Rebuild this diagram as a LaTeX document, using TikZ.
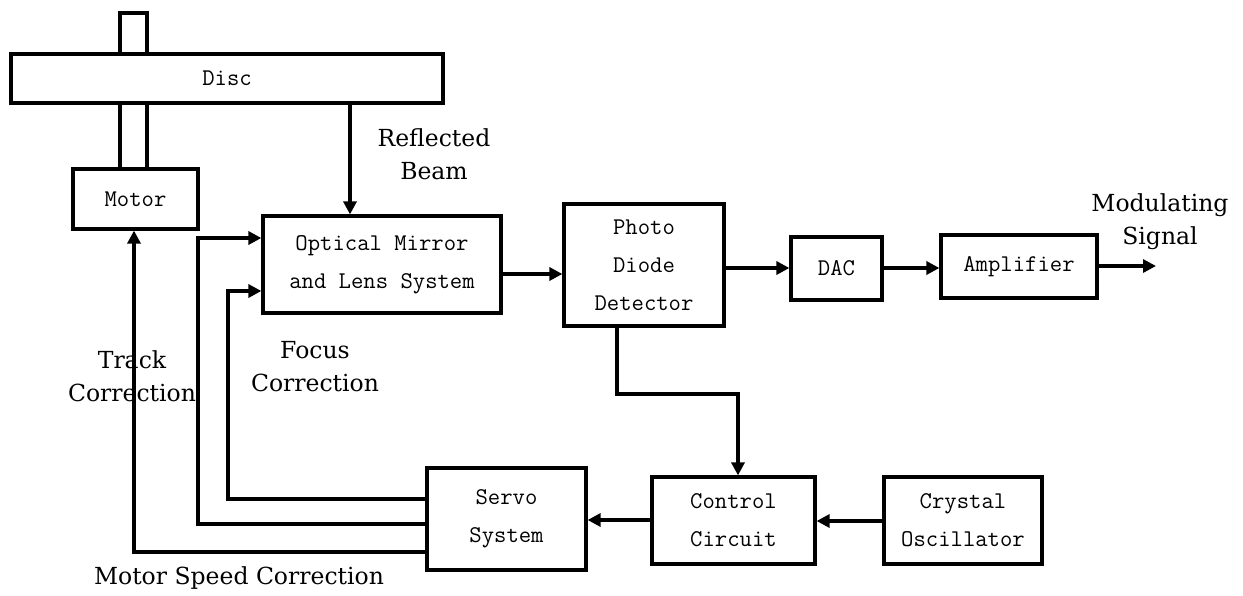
\documentclass[tikz,border=0pt]{standalone}
\usepackage{fontspec}
\setmainfont{Liberation Serif}
\newfontfamily\lblfont{DejaVu Serif}
\usetikzlibrary{arrows.meta}
\begin{document}
\begin{tikzpicture}[x=1pt,y=-1pt,
  box/.style={draw,line width=3.2pt,inner sep=0pt,align=center,
    font=\ttfamily\fontsize{24}{38}\selectfont},
  plain/.style={draw,line width=3.2pt,inner sep=0pt},
  arr/.style={line width=3.2pt,-{Triangle[length=13pt,width=13pt]}},
  lbl/.style={align=center,inner sep=0pt,font=\lblfont\fontsize{23.5}{33}\selectfont}]
\useasboundingbox (0,0) rectangle (1243,595);
% disc and spindle
\node[plain,minimum width=27pt,minimum height=41pt] (spt) at (133.5,33.5) {};
\node[plain,minimum width=27pt,minimum height=66pt] (spl) at (133.5,136) {};
\node[box,minimum width=432pt,minimum height=49pt,fill=white] (disc) at (227,78.5) {Disc};
\node[box,minimum width=125pt,minimum height=60pt,fill=white] (motor) at (135.5,199) {Motor};
% main chain
\node[box,minimum width=238pt,minimum height=97pt] (opt) at (382,264.5) {Optical Mirror\\and Lens System};
\node[box,minimum width=160pt,minimum height=122pt] (photo) at (644,265) {Photo\\Diode\\Detector};
\node[box,minimum width=91pt,minimum height=63pt] (dac) at (836.5,268.5) {DAC};
\node[box,minimum width=156pt,minimum height=63pt] (amp) at (1019,266.5) {Amplifier};
\node[box,minimum width=159pt,minimum height=102pt] (servo) at (506.5,519) {Servo\\System};
\node[box,minimum width=163pt,minimum height=87pt] (ctrl) at (733.5,520.5) {Control\\Circuit};
\node[box,minimum width=158pt,minimum height=87pt] (xtal) at (963,520.5) {Crystal\\Oscillator};
% coordinates
\coordinate (beamx) at (350,0);
\coordinate (out) at (1156,266);
\coordinate (pd1) at (617,394);
\coordinate (pd2) at (738,394);
\coordinate (fx) at (228,0);
\coordinate (tx) at (198,0);
\coordinate (mx) at (134,0);
% connectors
\draw[arr] (disc.south -| beamx) -- (opt.north -| beamx);
\draw[arr] (opt.east |- 0,274) -- (photo.west |- 0,274);
\draw[arr] (photo.east |- 0,268) -- (dac.west |- 0,268);
\draw[arr] (dac.east |- 0,268) -- (amp.west |- 0,268);
\draw[arr] (amp.east |- out) -- (out);
\draw[arr] (photo.south -| pd1) -- (pd1) -- (pd2) -- (ctrl.north -| pd2);
\draw[arr] (xtal.west |- 0,521) -- (ctrl.east |- 0,521);
\draw[arr] (ctrl.west |- 0,520) -- (servo.east |- 0,520);
\draw[arr] (servo.west |- 0,499) -| (fx |- 0,291) -- (opt.west |- 0,291);
\draw[arr] (servo.west |- 0,524) -| (tx |- 0,238) -- (opt.west |- 0,238);
\draw[arr] (servo.west |- 0,552) -| (motor.south -| mx);
% labels
\node[lbl] (lrb) at (434,154) {Reflected\\Beam};
\node[lbl] (lms) at (1160,222) {Modulating\\Signal};
\node[lbl] (ltc) at (132,376) {Track\\Correction};
\node[lbl] (lfc) at (315,367) {Focus\\Correction};
\node[lbl] (lmsc) at (239,578) {Motor Speed Correction};
\end{tikzpicture}
\end{document}
